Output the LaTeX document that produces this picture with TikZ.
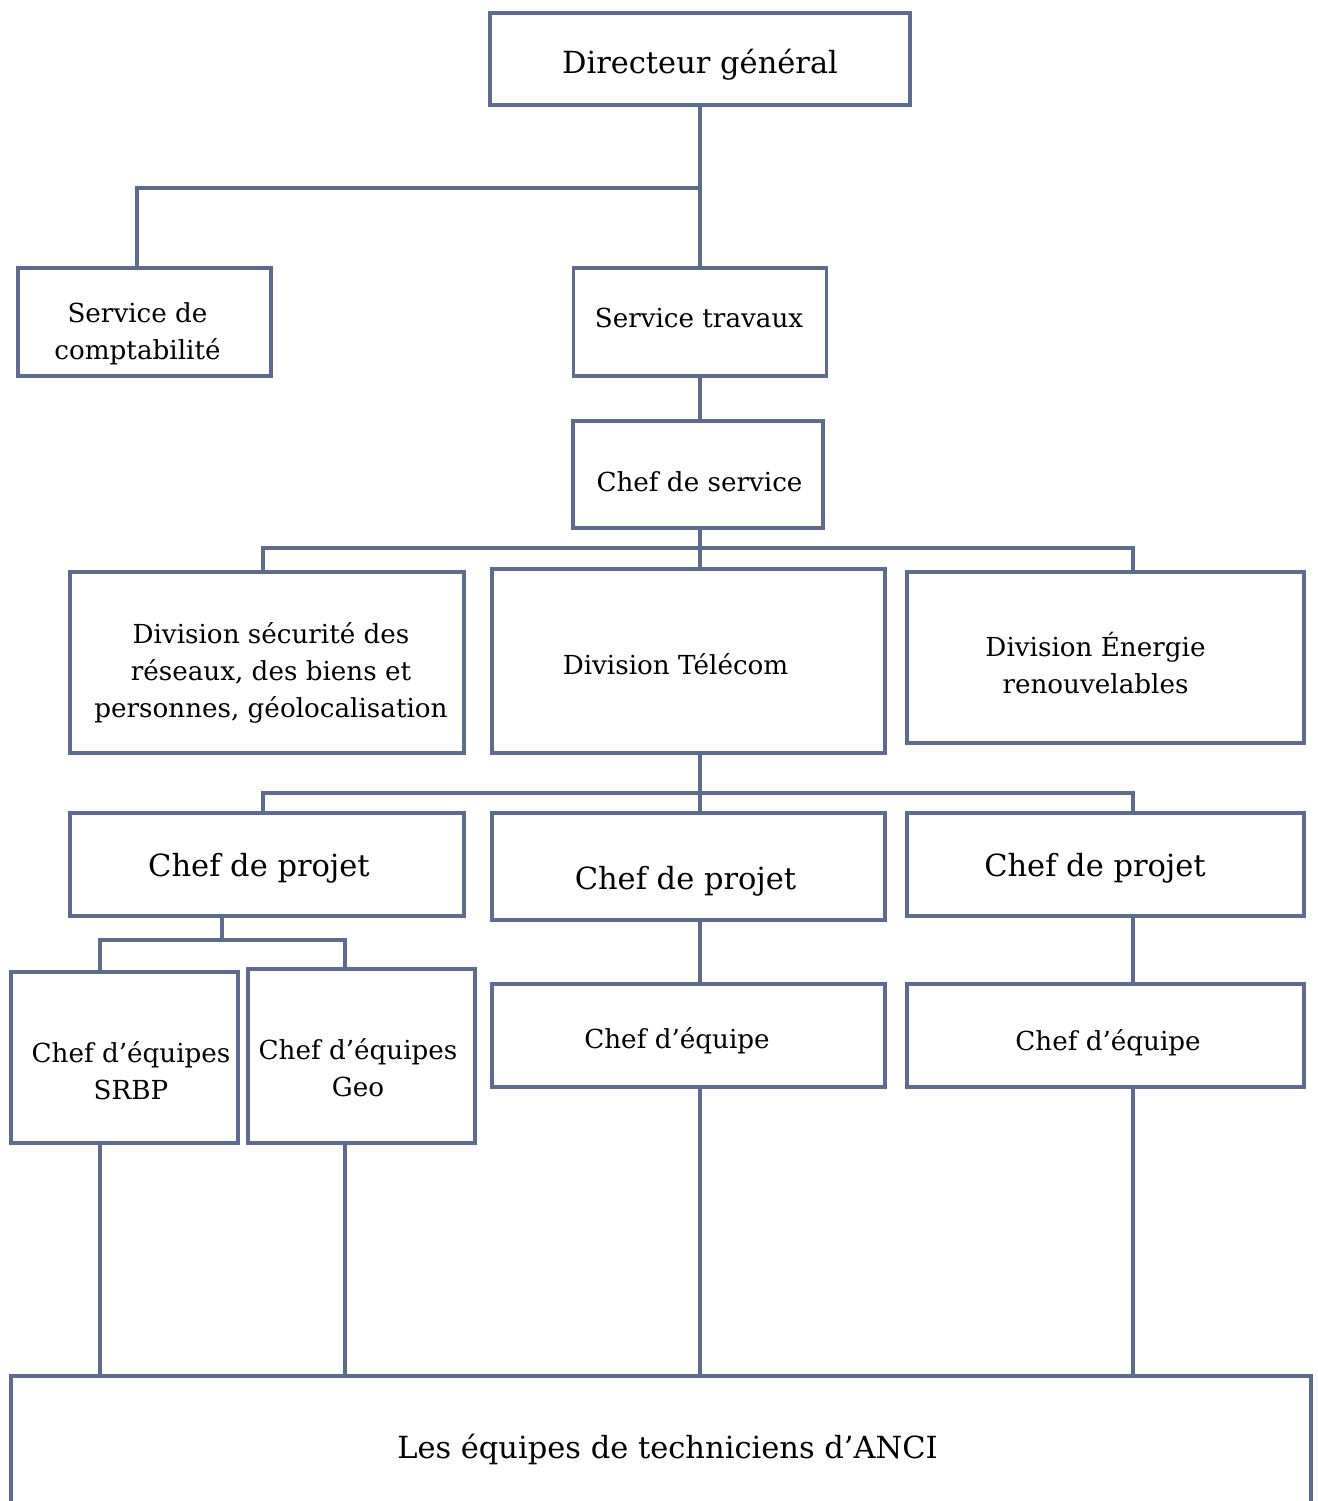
\documentclass[tikz,border=0pt]{standalone}
\usepackage{fontspec}
\setmainfont{DejaVu Serif}
\definecolor{ln}{HTML}{5F6B8E}
\begin{document}
\begin{tikzpicture}[x=1pt,y=-1pt,
  box/.style={draw=ln, line width=3.5pt, fill=white, inner sep=0pt},
  tx/.style={inner sep=0pt, align=center},
  conn/.style={draw=ln, line width=3.5pt},
  bigtxt/.style={tx, font=\fontsize{30.5}{37}\selectfont},
  smalltxt/.style={tx, font=\fontsize{26.2}{37}\selectfont}]
\useasboundingbox (0,0) rectangle (1317,1501);
% boxes
\node[box,minimum width=420pt,minimum height=92pt] (dg) at (700,59) {};
\node[box,minimum width=253pt,minimum height=108pt] (sc) at (144.5,322) {};
\node[box,minimum width=253pt,minimum height=108pt] (st) at (700,322) {};
\node[box,minimum width=250pt,minimum height=107pt] (cs) at (698,474.5) {};
\node[box,minimum width=394pt,minimum height=181pt] (d1) at (267,662.5) {};
\node[box,minimum width=393pt,minimum height=184pt] (d2) at (688.5,661) {};
\node[box,minimum width=397pt,minimum height=171pt] (d3) at (1105.5,657.5) {};
\node[box,minimum width=394pt,minimum height=103pt] (p1) at (267,864.5) {};
\node[box,minimum width=393pt,minimum height=107pt] (p2) at (688.5,866.5) {};
\node[box,minimum width=397pt,minimum height=103pt] (p3) at (1105.5,864.5) {};
\node[box,minimum width=227pt,minimum height=171pt] (e1) at (124.5,1057.5) {};
\node[box,minimum width=227pt,minimum height=174pt] (e2) at (361.5,1056) {};
\node[box,minimum width=393pt,minimum height=103pt] (c1) at (688.5,1035.5) {};
\node[box,minimum width=397pt,minimum height=103pt] (c2) at (1105.5,1035.5) {};
\node[box,minimum width=1300pt,minimum height=142pt] (bot) at (661,1447) {};
% texts
\node[bigtxt] (tdg) at ([shift={(0,6)}]dg.center) {Directeur général};
\node[smalltxt] (tsc) at ([shift={(-7,12)}]sc.center) {Service de\\comptabilité};
\node[smalltxt] (tst) at ([shift={(-1,-4)}]st.center) {Service travaux};
\node[smalltxt] (tcs) at ([shift={(1.5,7)}]cs.center) {Chef de service};
\node[smalltxt] (td1) at ([shift={(4,10)}]d1.center) {Division sécurité des\\réseaux, des biens et\\personnes, géolocalisation};
\node[smalltxt] (td2) at ([shift={(-13,3)}]d2.center) {Division Télécom};
\node[smalltxt] (td3) at ([shift={(-10,6)}]d3.center) {Division Énergie\\renouvelables};
\node[bigtxt] (tp1) at ([shift={(-8,4)}]p1.center) {Chef de projet};
\node[bigtxt] (tp2) at ([shift={(-3,15)}]p2.center) {Chef de projet};
\node[bigtxt] (tp3) at ([shift={(-10.5,4)}]p3.center) {Chef de projet};
\node[smalltxt] (te1) at ([shift={(6.5,13)}]e1.center) {Chef d’équipes\\SRBP};
\node[smalltxt] (te2) at ([shift={(-3.5,12)}]e2.center) {Chef d’équipes\\Geo};
\node[smalltxt] (tc1) at ([shift={(-11.5,5)}]c1.center) {Chef d’équipe};
\node[smalltxt] (tc2) at ([shift={(2.5,7)}]c2.center) {Chef d’équipe};
\node[bigtxt] (tbot) at ([shift={(6.5,2)}]bot.center) {Les équipes de techniciens d’ANCI};
% columns and junctions
\coordinate (j1) at (700,188);
\coordinate (j2) at (700,548);
\coordinate (j3) at (700,793);
\coordinate (j4) at (222,940);
\coordinate (xa) at (100,0);
\coordinate (xb) at (345,0);
\coordinate (xc) at (700,0);
\coordinate (xd) at (1133,0);
\coordinate (xe) at (137,0);
\coordinate (xf) at (263,0);
% connectors
\draw[conn] (dg.south) -- (st.north);
\draw[conn] (sc.north -| xe) |- (j1);
\draw[conn] (st.south) -- (cs.north -| st.south);
\draw[conn] (cs.south -| xc) -- (d2.north -| xc);
\draw[conn] (d1.north -| xf) |- (j2) -| (d3.north -| xd);
\draw[conn] (d2.south -| xc) -- (p2.north -| xc);
\draw[conn] (p1.north -| xf) |- (j3) -| (p3.north -| xd);
\draw[conn] (p1.south -| j4) -- (j4);
\draw[conn] (e1.north -| xa) |- (j4) -| (e2.north -| xb);
\draw[conn] (p2.south -| xc) -- (c1.north -| xc);
\draw[conn] (p3.south -| xd) -- (c2.north -| xd);
\draw[conn] (e1.south -| xa) -- (bot.north -| xa);
\draw[conn] (e2.south -| xb) -- (bot.north -| xb);
\draw[conn] (c1.south -| xc) -- (bot.north -| xc);
\draw[conn] (c2.south -| xd) -- (bot.north -| xd);
\end{tikzpicture}
\end{document}
